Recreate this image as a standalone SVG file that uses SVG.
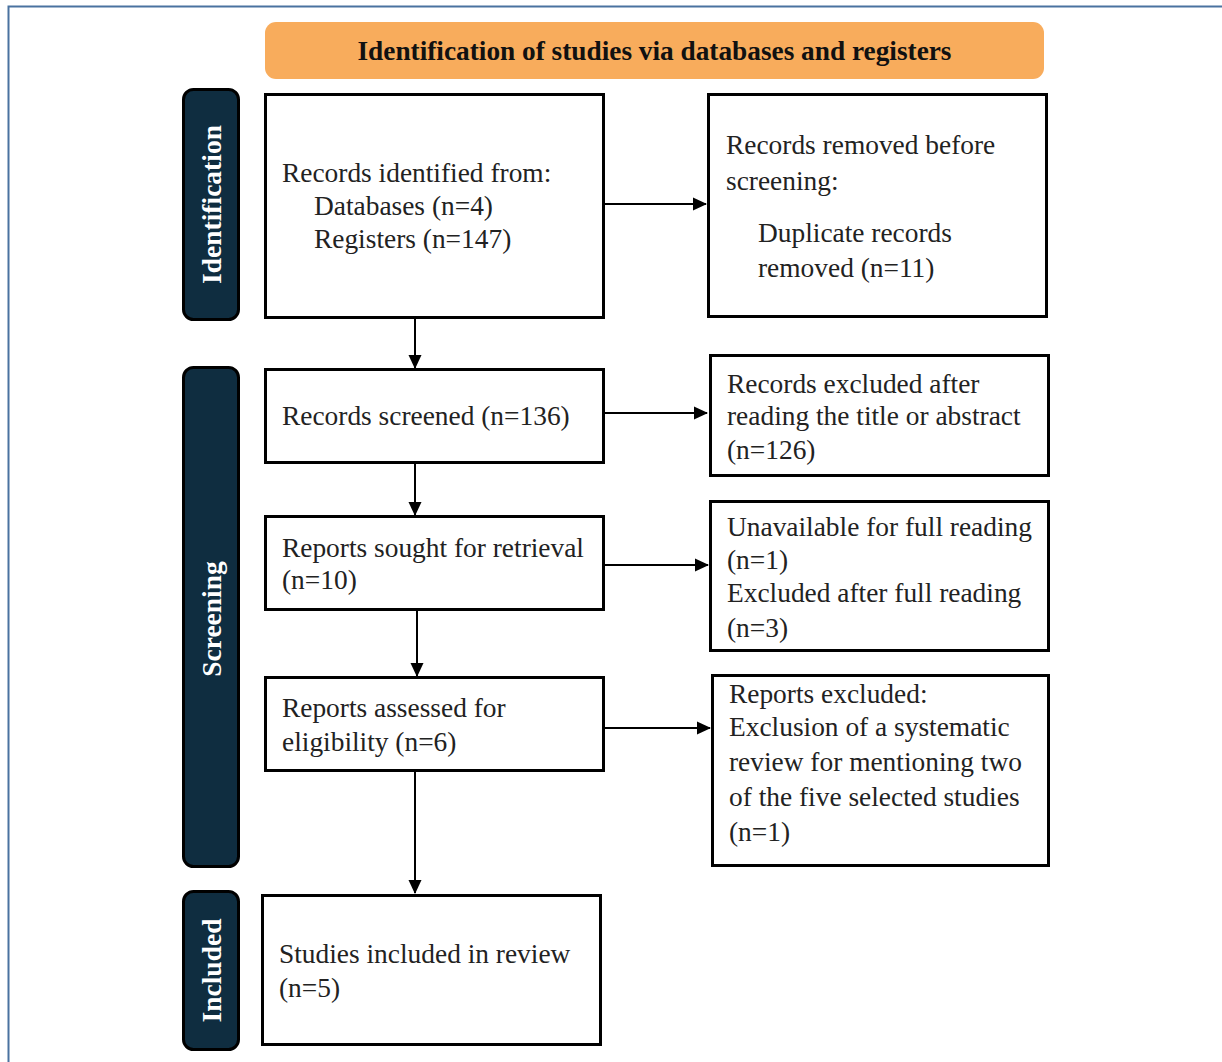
<svg xmlns="http://www.w3.org/2000/svg" width="1222" height="1062" viewBox="0 0 1222 1062">
<defs>
<marker id="ah" markerWidth="14" markerHeight="14" refX="13" refY="7" orient="auto" markerUnits="userSpaceOnUse" viewBox="0 0 14 14">
<path d="M0,0.5 L14,7 L0,13.5 Z" fill="#000"/>
</marker>
<style>
.box{fill:#fff;stroke:#000;stroke-width:3}
.side{fill:#0f2d40;stroke:#000;stroke-width:3}
.t{font-family:"Liberation Serif","Times New Roman",serif;font-size:27.4px;fill:#222}
.st{font-family:"Liberation Serif","Times New Roman",serif;font-size:27.5px;font-weight:bold;fill:#fff}
.c{stroke:#000;stroke-width:2;fill:none;marker-end:url(#ah)}
</style>
</defs>
<rect width="1222" height="1062" fill="#fff"/>
<path d="M8.5,1062 V6.5 H1222" fill="none" stroke="#4a72a0" stroke-width="2"/>
<g id="banner">
<rect x="265" y="22" width="779" height="57" rx="11" fill="#f8ac5c"/>
<text x="654.5" y="60" text-anchor="middle" font-family="Liberation Serif,serif" font-size="27.3" font-weight="bold" fill="#111">Identification of studies via databases and registers</text>
</g>
<g id="side-identification">
<rect class="side" x="183.5" y="89.5" width="55" height="230" rx="10"/>
<text class="st" transform="translate(221,204.5) rotate(-90)" text-anchor="middle">Identification</text>
</g>
<g id="side-screening">
<rect class="side" x="183.5" y="367.5" width="55" height="499" rx="10"/>
<text class="st" transform="translate(221,619) rotate(-90)" text-anchor="middle">Screening</text>
</g>
<g id="side-included">
<rect class="side" x="183.5" y="891.5" width="55" height="158" rx="10"/>
<text class="st" transform="translate(221,970.5) rotate(-90)" text-anchor="middle">Included</text>
</g>
<g id="n-identified">
<rect class="box" x="265.5" y="94.5" width="338" height="223"/>
<text class="t" x="282" y="182">Records identified from:</text>
<text class="t" x="314" y="215">Databases (n=4)</text>
<text class="t" x="314" y="248">Registers (n=147)</text>
</g>
<g id="n-removed">
<rect class="box" x="708.5" y="94.5" width="338" height="222"/>
<text class="t" x="726" y="154">Records removed before</text>
<text class="t" x="726" y="190">screening:</text>
<text class="t" x="758" y="242">Duplicate records</text>
<text class="t" x="758" y="277">removed (n=11)</text>
</g>
<g id="n-screened">
<rect class="box" x="265.5" y="369.5" width="338" height="93"/>
<text class="t" x="282" y="425">Records screened (n=136)</text>
</g>
<g id="n-excluded1">
<rect class="box" x="710.5" y="355.5" width="338" height="120"/>
<text class="t" x="727" y="393">Records excluded after</text>
<text class="t" x="727" y="425">reading the title or abstract</text>
<text class="t" x="727" y="459">(n=126)</text>
</g>
<g id="n-sought">
<rect class="box" x="265.5" y="516.5" width="338" height="93"/>
<text class="t" x="282" y="557">Reports sought for retrieval</text>
<text class="t" x="282" y="589">(n=10)</text>
</g>
<g id="n-unavailable">
<rect class="box" x="710.5" y="501.5" width="338" height="149"/>
<text class="t" x="727" y="536">Unavailable for full reading</text>
<text class="t" x="727" y="569">(n=1)</text>
<text class="t" x="727" y="602">Excluded after full reading</text>
<text class="t" x="727" y="637">(n=3)</text>
</g>
<g id="n-assessed">
<rect class="box" x="265.5" y="677.5" width="338" height="93"/>
<text class="t" x="282" y="717">Reports assessed for</text>
<text class="t" x="282" y="751">eligibility (n=6)</text>
</g>
<g id="n-excluded2">
<rect class="box" x="712.5" y="675.5" width="336" height="190"/>
<text class="t" x="729" y="703">Reports excluded:</text>
<text class="t" x="729" y="736">Exclusion of a systematic</text>
<text class="t" x="729" y="771">review for mentioning two</text>
<text class="t" x="729" y="806">of the five selected studies</text>
<text class="t" x="729" y="841">(n=1)</text>
</g>
<g id="n-included">
<rect class="box" x="262.5" y="895.5" width="338" height="149"/>
<text class="t" x="279" y="963">Studies included in review</text>
<text class="t" x="279" y="997">(n=5)</text>
</g>
<g id="connectors">
<line class="c" x1="605" y1="204" x2="706" y2="204"/>
<line class="c" x1="605" y1="413" x2="707" y2="413"/>
<line class="c" x1="605" y1="565" x2="708" y2="565"/>
<line class="c" x1="605" y1="728" x2="710" y2="728"/>
<line class="c" x1="415" y1="319" x2="415" y2="368"/>
<line class="c" x1="415" y1="464" x2="415" y2="515"/>
<line class="c" x1="417" y1="611" x2="417" y2="676"/>
<line class="c" x1="415" y1="772" x2="415" y2="893"/>
</g>
</svg>
